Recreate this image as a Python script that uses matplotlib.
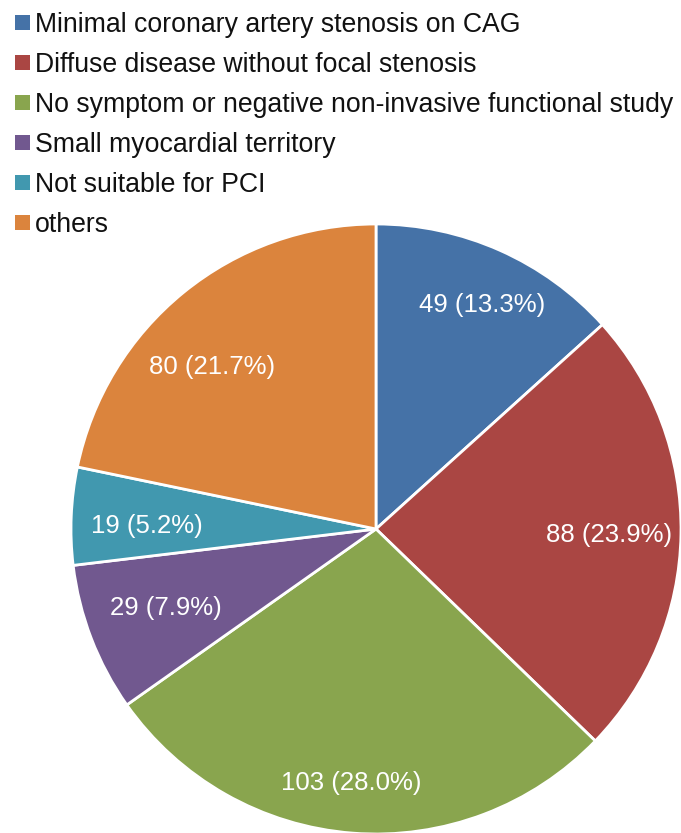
import numpy as np
import matplotlib.pyplot as plt
from matplotlib.patches import Rectangle

plt.rcParams['font.family'] = ['Liberation Sans', 'DejaVu Sans']

categories = ['Minimal coronary artery stenosis on CAG',
              'Diffuse disease without focal stenosis',
              'No symptom or negative non-invasive functional study',
              'Small myocardial territory',
              'Not suitable for PCI',
              'others']
counts = [49, 88, 103, 29, 19, 80]
pct_labels = ['13.3%', '23.9%', '28.0%', '7.9%', '5.2%', '21.7%']
colors = ['#4572A7', '#AA4643', '#89A54E', '#71588F', '#4198AF', '#DB843D']

W, H = 681, 833
fig = plt.figure(figsize=(W / 100, H / 100), dpi=100)

# pie centred at (376, 529) px, radius 305 px
cx, cy, r = 376, 529, 305
ax = fig.add_axes([(cx - r) / W, (H - cy - r) / H, 2 * r / W, 2 * r / H])
wedges, _ = ax.pie(counts, colors=colors, startangle=90, counterclock=False,
                   radius=1, wedgeprops=dict(edgecolor='white', linewidth=2))
ax.set_xlim(-1, 1)
ax.set_ylim(-1, 1)
ax.set_aspect('equal')
ax.axis('off')

# label placement (radius fraction, angle nudge in degrees), excel-style
label_dist = [0.813, 0.764, 0.837, 0.737, 0.752, 0.756]
label_nudge = [-1.4, -0.5, -1.1, -0.4, 1.7, 6.3]
for w, n, p, d, da in zip(wedges, counts, pct_labels, label_dist, label_nudge):
    ang = np.deg2rad((w.theta1 + w.theta2) / 2 + da)
    ax.text(d * np.cos(ang), d * np.sin(ang), '%d (%s)' % (n, p),
            color='white', fontsize=18.5, ha='center', va='center')

# legend, drawn by hand
for i, (c, lab) in enumerate(zip(colors, categories)):
    yc = 22 + 40 * i
    fig.add_artist(Rectangle((15 / W, 1 - (yc + 7.5) / H), 15 / W, 15 / H,
                             transform=fig.transFigure, facecolor=c,
                             edgecolor='none'))
    fig.text(35 / W, 1 - (yc + 10) / H, lab, fontsize=19.2, color='#111111',
             ha='left', va='baseline')

fig.savefig('out.png', dpi=100)
